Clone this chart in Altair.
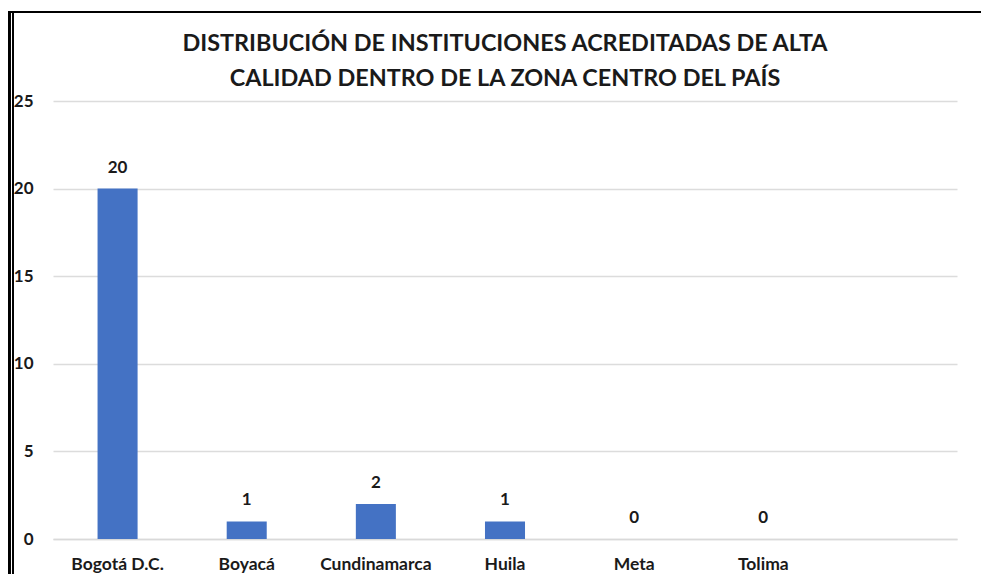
import altair as alt
import pandas as pd

categories = ["Bogotá D.C.", "Boyacá", "Cundinamarca", "Huila", "Meta", "Tolima"]
values = [20, 1, 2, 1, 0, 0]
domain_slots = categories + [" "]
y_ticks = [0, 5, 10, 15, 20, 25]
title_lines = ["DISTRIBUCIÓN DE INSTITUCIONES ACREDITADAS DE ALTA",
               "CALIDAD DENTRO DE LA ZONA CENTRO DEL PAÍS"]

df = pd.DataFrame({"depto": categories, "n": values})

FONT = "Lato"
TXT = "#1a1a1a"

x_enc = alt.X("depto:N", sort=domain_slots,
              scale=alt.Scale(domain=domain_slots, paddingInner=0.69, paddingOuter=0.345),
              axis=alt.Axis(title=None, labelAngle=0, ticks=False, domain=True,
                            domainColor="#d9d9d9", domainWidth=1.5,
                            labelFont=FONT, labelFontSize=17.5, labelFontWeight="bold",
                            labelColor=TXT, labelPadding=16))
y_enc = alt.Y("n:Q", scale=alt.Scale(domain=[0, 25], nice=False),
              axis=alt.Axis(title=None, values=y_ticks, ticks=False, domain=False,
                            gridColor="#dcdcdc", gridWidth=1.5,
                            labelFont=FONT, labelFontSize=17, labelFontWeight="bold",
                            labelColor=TXT, labelPadding=20))

base = alt.Chart(df)
bars = base.mark_bar(color="#4472C4").encode(x=x_enc, y=y_enc)
labels = base.mark_text(baseline="bottom", dy=-12, font=FONT, fontSize=17,
                        fontWeight="bold", color=TXT).encode(
    x=alt.X("depto:N", sort=domain_slots), y="n:Q", text="n:Q")

frame_top = alt.Chart(df).mark_rule(color="#000", strokeWidth=2).encode(
    x=alt.value(-50), x2=alt.value(960), y=alt.value(-89))
frame_left_outer = alt.Chart(df).mark_rule(color="#000", strokeWidth=3).encode(
    x=alt.value(-44), y=alt.value(-89), y2=alt.value(480))
frame_left_inner = alt.Chart(df).mark_rule(color="#000", strokeWidth=1).encode(
    x=alt.value(-40), y=alt.value(-89), y2=alt.value(480))

chart = alt.layer(bars, labels, frame_top, frame_left_outer, frame_left_inner).properties(
    width=904, height=438,
    background="white",
    title=alt.TitleParams(text=title_lines, font=FONT, fontSize=23.4, fontWeight="bold",
                          color=TXT, anchor="middle", frame="group", offset=-81, lineHeight=35),
    autosize=alt.AutoSizeParams(type="none"),
    padding={"left": 45, "top": 93, "right": 24, "bottom": 40},
).configure_view(strokeWidth=0, stroke="transparent")

chart.save("out.html", embed_options={"renderer": "svg", "actions": False})
